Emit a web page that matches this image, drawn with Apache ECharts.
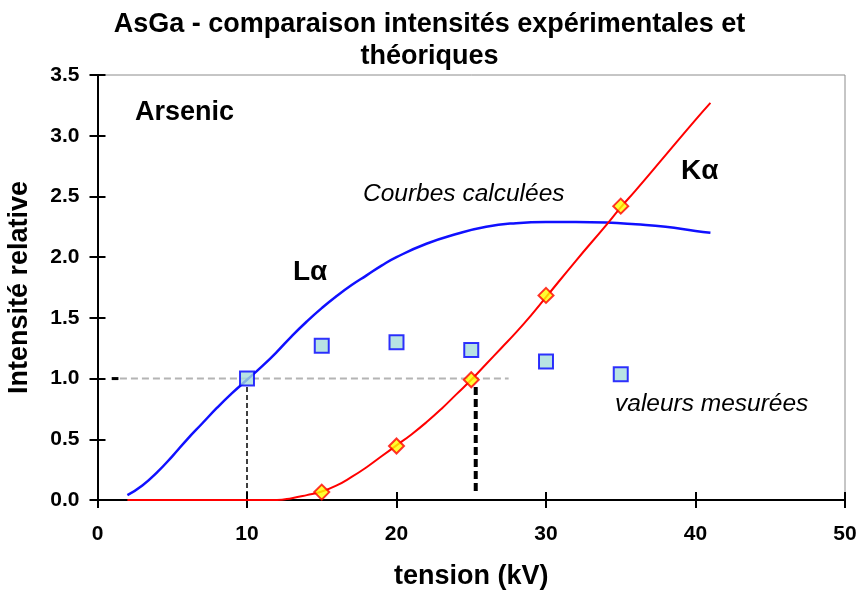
<!DOCTYPE html>
<html>
<head>
<meta charset="utf-8">
<script src="https://cdn.jsdelivr.net/npm/echarts@6/dist/echarts.min.js"></script>
<style>
html,body{margin:0;padding:0;background:#fff;}
#chart{width:859px;height:592px;}
</style>
</head>
<body>
<div id="chart"></div>
<script>
// ---- data ----
var xTicks = [0, 10, 20, 30, 40, 50];
var yTicks = [0, 0.5, 1.0, 1.5, 2.0, 2.5, 3.0, 3.5];

// calculated curves
var laX = [2, 3, 4, 5, 6, 7, 8, 9, 10, 11, 12, 13, 14, 15, 16, 17, 18, 19, 20, 22, 24, 26, 28, 30, 32, 34, 36, 38, 40, 41];
var laY = [0.04, 0.12, 0.23, 0.36, 0.50, 0.63, 0.76, 0.88, 0.99, 1.10, 1.22, 1.35, 1.47, 1.58, 1.68, 1.77, 1.85, 1.93, 2.00, 2.11, 2.19, 2.25, 2.28, 2.29, 2.29, 2.285, 2.27, 2.25, 2.215, 2.20];

var kaX = [2, 12, 13, 14, 15, 16, 17, 18, 19, 20, 21, 22, 23, 24, 25, 26, 27, 28, 29, 30, 32, 34, 35, 36, 38, 40, 41];
var kaY = [0, 0, 0.015, 0.04, 0.07, 0.12, 0.19, 0.27, 0.36, 0.45, 0.54, 0.64, 0.75, 0.87, 0.99, 1.12, 1.25, 1.38, 1.52, 1.67, 1.97, 2.26, 2.41, 2.55, 2.84, 3.13, 3.27];

// measured values
var laMesX = [10, 15, 20, 25, 30, 35];
var laMesY = [1.00, 1.27, 1.30, 1.235, 1.14, 1.035];
var kaMesX = [15, 20, 25, 30, 35];
var kaMesY = [0.065, 0.445, 0.99, 1.685, 2.42];

// reference (guide) lines
var guideH = [[1.5, 1.0], [27.5, 1.0]];
var guideHStub = [[0.95, 1.0], [1.4, 1.0]];
var guideV10 = [[10, 0.93], [10, 0]];
var guideV25 = [[25.3, 0.93], [25.3, 0.05]];

function zip(xs, ys) { return xs.map(function (x, i) { return [x, ys[i]]; }); }

var FONT = '"Liberation Sans", Arial, sans-serif';
var chart = echarts.init(document.getElementById('chart'), null, {renderer: 'canvas'});

var baseX = {
  type: 'value', min: 0, max: 50, interval: 10, position: 'bottom',
  splitLine: {show: false}
};
var baseY = {
  type: 'value', min: 0, max: 3.5, interval: 0.5, position: 'left',
  splitLine: {show: false}
};

var option = {
  backgroundColor: '#fff',
  animation: false,
  title: {
    text: 'AsGa - comparaison intensités expérimentales et\nthéoriques',
    left: 'center',
    top: 4,
    textStyle: {fontFamily: FONT, fontSize: 27, fontWeight: 'bold', color: '#000', lineHeight: 32, align: 'center'}
  },
  grid: {left: 97.5, right: 14, top: 75, bottom: 92, show: true, borderColor: '#8c8c8c', borderWidth: 1,
    backgroundColor: 'transparent', containLabel: false, outerBoundsMode: 'none'},
  xAxis: [
    Object.assign({}, baseX, {
      name: 'tension (kV)', nameLocation: 'middle', nameGap: 63,
      nameTextStyle: {fontFamily: FONT, fontSize: 27, fontWeight: 'bold', color: '#000'},
      axisLine: {show: true, lineStyle: {color: '#000', width: 2}},
      axisTick: {show: true, inside: false, length: 8, lineStyle: {color: '#000', width: 2}},
      axisLabel: {show: true, margin: 24, fontFamily: FONT, fontSize: 21, fontWeight: 'bold', color: '#000',
        formatter: function (v) { return xTicks.indexOf(v) >= 0 ? String(v) : ''; }}
    }),
    Object.assign({}, baseX, {
      axisLine: {show: false},
      axisTick: {show: true, inside: true, length: 8, lineStyle: {color: '#000', width: 2}},
      axisLabel: {show: false}
    })
  ],
  yAxis: [
    Object.assign({}, baseY, {
      name: 'Intensité relative', nameLocation: 'middle', nameGap: 64, nameRotate: 90,
      nameTextStyle: {fontFamily: FONT, fontSize: 27, fontWeight: 'bold', color: '#000'},
      axisLine: {show: true, lineStyle: {color: '#000', width: 2}},
      axisTick: {show: true, inside: false, length: 8, lineStyle: {color: '#000', width: 2}},
      axisLabel: {show: true, margin: 18, fontFamily: FONT, fontSize: 21, fontWeight: 'bold', color: '#000',
        padding: [5, 0, 0, 0],
        formatter: function (v) { return yTicks.indexOf(v) >= 0 ? v.toFixed(1) : ''; }}
    }),
    Object.assign({}, baseY, {
      axisLine: {show: false},
      axisTick: {show: true, inside: true, length: 8, lineStyle: {color: '#000', width: 2}},
      axisLabel: {show: false}
    })
  ],
  series: [
    {type: 'line', name: 'guideH', data: guideH, showSymbol: false, symbol: 'none', silent: true, clip: false,
      lineStyle: {color: '#b4b4b4', width: 2, type: [7, 4]}, z: 1},
    {type: 'line', name: 'guideHStub', data: guideHStub, symbol: 'none', silent: true, clip: false,
      lineStyle: {color: '#000', width: 3}, z: 1},
    {type: 'line', name: 'guideV10', data: guideV10, symbol: 'none', silent: true, clip: false,
      lineStyle: {color: '#000', width: 1.5, type: [5, 3]}, z: 1},
    {type: 'line', name: 'guideV25', data: guideV25, symbol: 'none', silent: true, clip: false,
      lineStyle: {color: '#000', width: 4, type: [8, 4]}, z: 1},
    {type: 'line', name: 'La calc', data: zip(laX, laY), symbol: 'none', smooth: 0.5, clip: false,
      lineStyle: {color: '#1010ff', width: 2.5}, z: 3},
    {type: 'line', name: 'Ka calc', data: zip(kaX, kaY), symbol: 'none', smooth: 0.5, clip: false,
      lineStyle: {color: '#ff0000', width: 2}, z: 3},
    {type: 'scatter', name: 'La mes', data: zip(laMesX, laMesY), symbol: 'rect', symbolSize: 14,
      itemStyle: {color: '#a6dcdc', borderColor: '#0000ff', borderWidth: 2}, z: 4},
    {type: 'scatter', name: 'Ka mes', data: zip(kaMesX, kaMesY), symbol: 'diamond', symbolSize: 15,
      itemStyle: {color: '#ffff00', borderColor: '#ff0000', borderWidth: 2}, z: 5}
  ],
  graphic: [
    {type: 'text', left: 135, top: 99, style: {text: 'Arsenic', font: 'bold 27px ' + FONT, fill: '#000'}},
    {type: 'text', left: 363, top: 182, style: {text: 'Courbes calculées', font: 'italic 24.5px ' + FONT, fill: '#000'}},
    {type: 'text', left: 293, top: 258, style: {text: 'Lα', font: 'bold 28px ' + FONT, fill: '#000'}},
    {type: 'text', left: 681, top: 157, style: {text: 'Kα', font: 'bold 28px ' + FONT, fill: '#000'}},
    {type: 'text', left: 615, top: 392, style: {text: 'valeurs mesurées', font: 'italic 24.5px ' + FONT, fill: '#000'}}
  ]
};
chart.setOption(option);
</script>
</body>
</html>
